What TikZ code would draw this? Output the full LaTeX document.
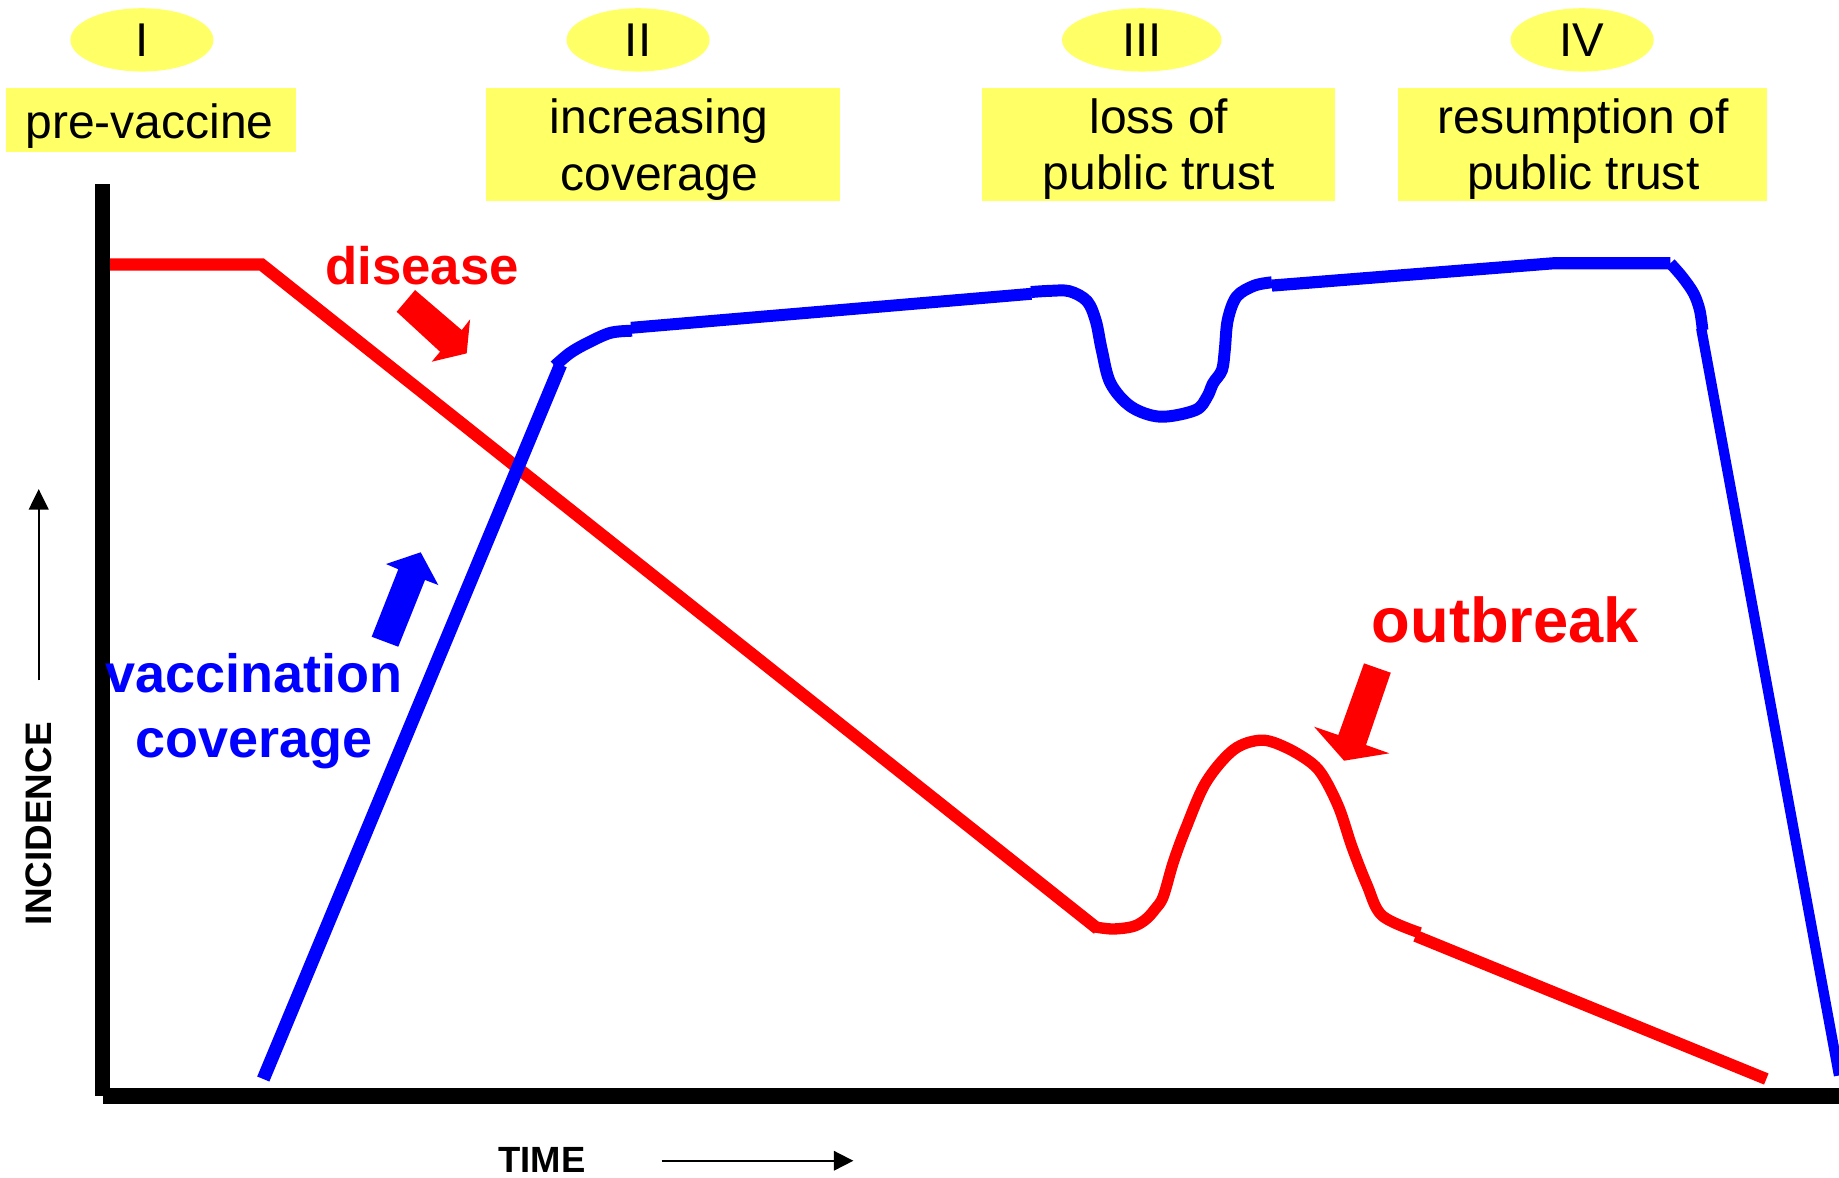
\documentclass[tikz,border=0pt]{standalone}
\usepackage{fontspec}
\setmainfont{Liberation Sans}
\usetikzlibrary{arrows.meta,shapes.geometric}
\definecolor{lblyellow}{HTML}{FFFF66}
\definecolor{cred}{HTML}{FF0000}
\definecolor{cblue}{HTML}{0000FF}
\begin{document}
\begin{tikzpicture}[x=0.02cm,y=-0.02cm,
  phase/.style={ellipse,fill=lblyellow,inner sep=0pt,minimum height=1.08cm,
    font=\fontsize{23pt}{27pt}\selectfont},
  stagebox/.style={rectangle,fill=lblyellow,inner sep=0pt},
  stagetext/.style={align=center,inner sep=0pt,font=\fontsize{23.3pt}{27.5pt}\selectfont},
  redline/.style={draw=cred,line cap=butt,line join=round},
  blueline/.style={draw=cblue,line cap=butt,line join=round},
  axisline/.style={draw=black,line cap=butt,line width=7.4pt},
  thinarrow/.style={draw=black,line width=0.9pt,-{Triangle[length=10pt,width=9.6pt]}},
  bigred/.style={text=cred,inner sep=0pt,font=\bfseries\fontsize{25.6pt}{30pt}\selectfont}
]
\useasboundingbox (0,0) rectangle (1568,1004);
\clip (0,0) rectangle (1568,1004);

% phase ellipses
\node[phase,minimum width=2.44cm] (p1) at (121,34) {I};
\node[phase,minimum width=2.44cm] (p2) at (544,34) {II};
\node[phase,minimum width=2.72cm] (p3) at (973.5,34) {III};
\node[phase,minimum width=2.44cm] (p4) at (1349,34) {IV};

% stage boxes
\node[stagebox,minimum width=4.94cm,minimum height=1.10cm] (b1) at (128.5,102.5) {};
\node[stagebox,minimum width=6.04cm,minimum height=1.92cm] (b2) at (565,123) {};
\node[stagebox,minimum width=6.02cm,minimum height=1.92cm] (b3) at (987.5,123) {};
\node[stagebox,minimum width=6.30cm,minimum height=1.92cm] (b4) at (1349.5,123) {};
\node[stagetext,anchor=base] (t1) at (127.6,118) {pre-vaccine};
\node[stagetext] (t2) at (562,127.5) {increasing\\coverage};
\node[stagetext] (t3) at (988,127.2) {loss of\\public trust};
\node[stagetext] (t4) at (1350,127.2) {resumption of\\public trust};

% disease curve
\coordinate (r0) at (88,225.5);
\coordinate (r1) at (223,225.5);
\coordinate (r2) at (936,792);
\draw[redline,line width=6pt,line join=miter] (r0) -- (r1) -- (r2);
\draw[redline,line width=5.5pt] plot[smooth,tension=0.55] coordinates {
  (934,790.4) (948.9,792.1) (966,790) (976.8,784) (985,775) (991.8,764.5)
  (1000.4,735.2) (1011.2,705.9) (1028.3,666.9) (1051.9,639.2) (1075.5,631.1)
  (1097,637.6) (1118.4,650.7) (1129.2,663.6) (1142,689.6) (1152.8,722.2)
  (1165.6,754.7) (1178.5,780.7) (1210.7,795.4)};
\coordinate (r3) at (1207,798);
\coordinate (r4) at (1506,920);
\draw[redline,line width=5.8pt] (r3) -- (r4);

% vaccination coverage curve
\coordinate (v0) at (224.5,920);
\coordinate (v1) at (478,311);
\draw[blueline,line width=6.4pt] (v0) -- (v1);
\draw[blueline,line width=5.8pt] plot[smooth,tension=0.55] coordinates {
  (473,312) (486,301) (500.4,292.7) (520.4,283.8) (539,282)};
\coordinate (v2) at (538,279.5);
\coordinate (v3) at (879.4,250.5);
\draw[blueline,line width=5.8pt] (v2) -- (v3);
\draw[blueline,line width=5.8pt] plot[smooth,tension=0.55] coordinates {
  (879,249) (895,248) (911.9,248.3) (926.9,256.8) (934.4,273.9) (939.4,298.4)
  (946.9,326.8) (964.4,346.8) (989.4,355.3) (1019.4,349.6) (1029.3,338.2)
  (1034.3,326.8) (1041.9,315.5) (1044.3,298.4) (1046.8,272.9) (1054.3,253)
  (1069.3,243.6) (1084.4,240.7)};
\coordinate (v4) at (1084.4,243.5);
\coordinate (v5) at (1324.2,224.5);
\coordinate (v6) at (1424.2,224.5);
\draw[blueline,line width=5.9pt] (v4) -- (v5) -- (v6);
\draw[blueline,line width=5.6pt] plot[smooth,tension=0.55] coordinates {
  (1424.2,224.5) (1434.2,235.9) (1444,250) (1449.2,264.3) (1451.7,281.4)};
\coordinate (v7) at (1450.5,280);
\coordinate (v8) at (1568,917);
\draw[blueline,line width=5pt] (v7) -- (v8);

% block arrows
\fill[cred] (338.2,265.8) -- (375.2,299.9) -- (368.1,308.4) -- (397.9,301.3)
  -- (400.8,272.3) -- (393.7,281.4) -- (353.9,247.3) -- cycle;
\fill[cblue] (316.9,542.9) -- (339.6,485.4) -- (329.1,480.9) -- (358.7,470.9)
  -- (373.7,498.8) -- (362.4,494.5) -- (339.6,551.4) -- cycle;
\fill[cred] (1163,565.6) -- (1141.1,626.7) -- (1120.4,619.6) -- (1146,648.6)
  -- (1184.6,642.3) -- (1164.7,635.2) -- (1185.8,573.6) -- cycle;

% axes
\coordinate (ytop) at (87.5,157);
\coordinate (ybot) at (87.5,934.5);
\coordinate (origin) at (87.5,934.7);
\coordinate (xend) at (1568,934.7);
\draw[axisline] (ytop) -- (ybot);
\draw[axisline,line width=7.6pt] (origin) -- (xend);

% axis direction arrows
\coordinate (ia0) at (33,580);
\coordinate (ia1) at (33,417);
\draw[thinarrow] (ia0) -- (ia1);
\coordinate (ta0) at (564.2,989.7);
\coordinate (ta1) at (727.6,989.7);
\draw[thinarrow,-{Triangle[length=9.4pt,width=9.4pt]}] (ta0) -- (ta1);

% labels
\node[rotate=90,inner sep=0pt,font=\bfseries\fontsize{17.9pt}{20pt}\selectfont] (inc) at (33.5,702.4) {INCIDENCE};
\node[anchor=base,inner sep=0pt,font=\bfseries\fontsize{17.7pt}{20pt}\selectfont] (time) at (462,1000) {TIME};
\node[bigred,anchor=base] (dis) at (360,242.2) {disease};
\node[bigred,anchor=base,font=\bfseries\fontsize{30.7pt}{36pt}\selectfont] (outb) at (1283.5,547.4) {outbreak};
\node[text=cblue,align=center,inner sep=0pt,font=\bfseries\fontsize{26.2pt}{31.9pt}\selectfont] (vc) at (216.7,606.4) {vaccination\\coverage};
\end{tikzpicture}
\end{document}
